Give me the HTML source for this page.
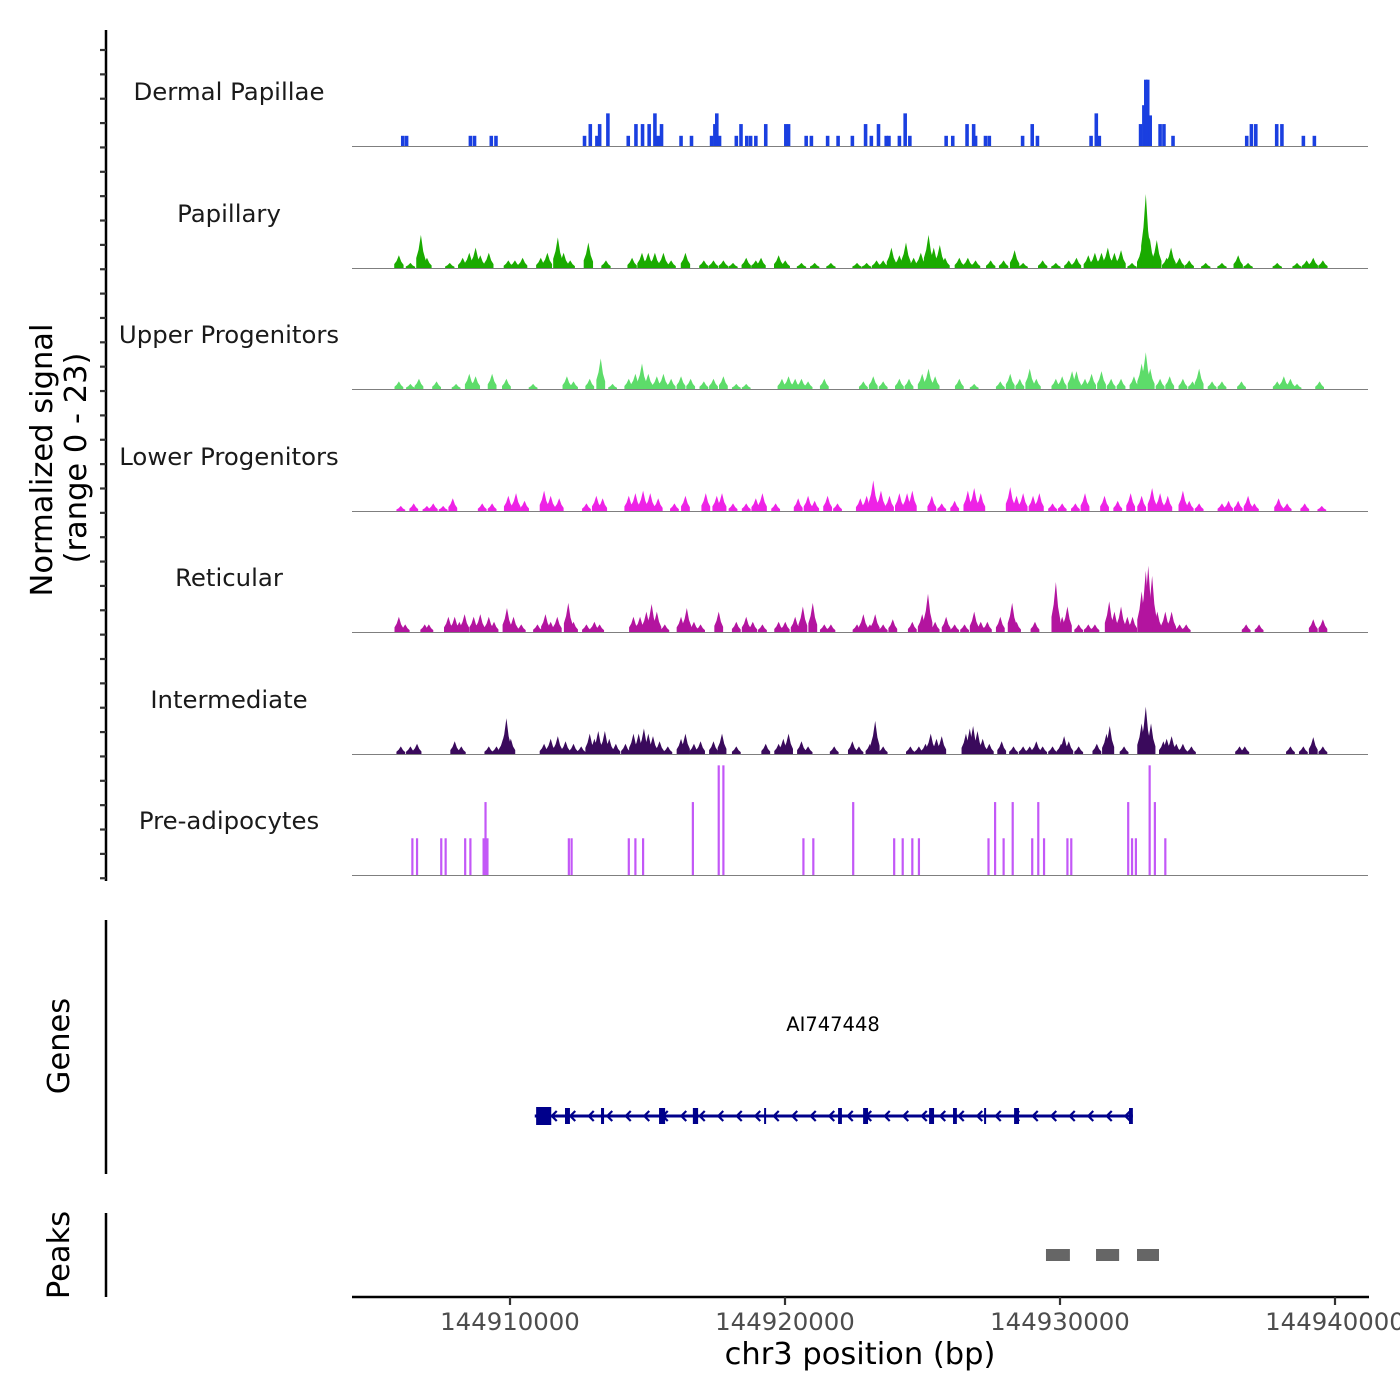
<!DOCTYPE html>
<html><head><meta charset="utf-8"><style>
html,body{margin:0;padding:0;background:#fff}
svg{display:block;font-family:"DejaVu Sans","Liberation Sans",sans-serif}
</style></head><body>
<svg id="chart" width="1400" height="1400" viewBox="0 0 1400 1400" xmlns="http://www.w3.org/2000/svg">
<rect width="1400" height="1400" fill="#fff"/>
<g id="tracks"></g>
<g id="gene"></g>
<g id="peaks"></g>
<g id="axes"></g>
<text transform="translate(52,460) rotate(-90)" text-anchor="middle" font-size="30.5" fill="#000">Normalized signal</text>
<text transform="translate(86,458) rotate(-90)" text-anchor="middle" font-size="30.5" fill="#000">(range 0 - 23)</text>
<text transform="translate(69,1046) rotate(-90)" text-anchor="middle" font-size="30.5" fill="#000">Genes</text>
<text transform="translate(69,1255) rotate(-90)" text-anchor="middle" font-size="30.5" fill="#000">Peaks</text>
<text x="860" y="1364" text-anchor="middle" font-size="30.5" fill="#000">chr3 position (bp)</text>
<text x="833" y="1031" text-anchor="middle" font-size="19.5" fill="#000">AI747448</text>
</svg>
<script>
// positions in kb offset from 144900000; heights in normalized signal units
const trackNames = ["Dermal Papillae","Papillary","Upper Progenitors","Lower Progenitors","Reticular","Intermediate","Pre-adipocytes"];
const trackColors = ["#1a3fe0","#1aab00","#5ddc6a","#ee22e6","#b3149f","#3a0a5c","#c358f7"];
const dermalPos = [6.10,6.24,8.56,8.71,9.32,9.49,12.71,12.92,13.16,13.26,13.56,14.30,14.58,14.82,15.06,15.27,15.39,15.51,16.22,16.6,17.33,17.45,17.52,17.62,18.23,18.4,18.61,18.75,18.94,19.3,20.03,20.13,20.77,20.96,21.55,21.93,22.45,22.93,23.14,23.4,23.68,23.78,24.16,24.37,24.54,25.86,26.1,26.62,26.86,26.93,27.29,27.43,28.64,28.99,29.18,31.13,31.32,31.43,32.93,33.05,33.12,33.19,33.28,33.64,33.78,34.11,36.79,36.96,37.12,37.88,38.07,38.85,39.25];
const dermalVal = [2,2,2,2,2,2,2,4.3,2,4.3,6.4,2,4.3,4.3,4.3,6.4,2,4.3,2,2,2,4.3,6.4,2,2,4.3,2,2,2,4.3,4.3,4.3,2,2,2,2,2,4.3,2,4.3,2,2,2,6.4,2,2,2,4.3,4.3,2,2,2,2,4.3,2,2,6.4,2,4.3,8,13,13,6,4.3,4.3,2,2,4.3,4.3,4.3,4.3,2,2];
const papillaryPos = [5.96,6.38,6.76,6.98,7.81,8.28,8.52,8.75,8.92,9.23,9.94,10.18,10.46,11.12,11.36,11.74,11.95,12.19,12.85,13.49,14.44,14.80,15.03,15.27,15.58,15.86,16.38,17.05,17.40,17.76,18.11,18.59,18.94,19.13,19.77,20.01,20.6,21.08,21.67,22.62,22.97,23.33,23.57,23.87,24.16,24.4,24.68,24.94,25.22,25.41,25.63,25.82,26.34,26.65,26.93,27.48,27.95,28.35,28.66,29.37,29.85,30.32,30.6,31.03,31.27,31.51,31.74,31.98,32.22,32.62,32.97,33.12,33.26,33.52,33.88,34.04,34.35,34.7,35.3,35.89,36.48,36.84,37.9,38.62,38.97,39.21,39.56];
const papillaryVal = [2.5,1,6.5,2,1,2,3,4,2.5,3,1.5,1.5,2,2,3,6,3,1.5,5,1.5,2,3,3,3,3,1.5,3,1.5,1.5,1.5,1,2,1.5,2,2.5,1.5,1,1,1,1,1,1.5,1.5,4,2.5,5,2,3,6.5,4,4.5,2,2,2,1.5,1.5,1.5,3.5,1,1.5,1,1.5,2,2.5,3,3,4,3,3.5,1,4,14.5,6,5.5,2,4,2,1.5,1,1,2.5,1,1,1,1.5,2,1.5];
const upperPos = [5.96,6.38,6.69,7.33,8.04,8.52,8.75,9.35,9.87,10.84,12.07,12.31,12.9,13.3,13.73,14.32,14.56,14.8,15.03,15.34,15.58,15.86,16.22,16.57,17.05,17.4,17.76,18.23,18.59,19.89,20.13,20.37,20.6,20.84,21.43,22.85,23.21,23.57,24.16,24.51,24.99,25.22,25.46,26.34,26.88,27.83,28.19,28.54,28.9,29.14,29.85,30.08,30.44,30.6,30.91,31.15,31.51,31.86,32.22,32.69,32.97,33.12,33.28,33.64,33.99,34.47,34.82,35.06,35.53,35.89,36.6,37.9,38.14,38.38,38.62,39.44];
const upperVal = [1.5,1,2,1.5,1,3,2.5,3,2,1,2.5,1.5,2,6,1,2,3,5,3,2.5,3,2,2.5,2,1.5,2,2.5,1,1,2,2.5,2,2,1.5,2,1.5,2.5,1.5,2,2,3,4,2.5,2,1,1.5,3,2,4,2,2,2.5,3.5,3.5,2,3,3.5,2,2,2.5,5,7.2,4,2,2.5,2,1.5,4,1.5,1.5,1.5,1.5,2.5,2,1,1.5];
const lowerPos = [6.03,6.5,6.98,7.21,7.57,7.92,8.99,9.35,9.94,10.22,10.53,11.24,11.48,11.79,12.78,13.14,13.37,14.32,14.56,14.84,15.1,15.39,15.98,16.38,17.12,17.52,17.71,18.11,18.59,18.94,19.18,19.66,20.48,20.84,21.08,21.55,21.91,22.74,22.97,23.21,23.49,23.8,24.16,24.44,24.63,25.34,25.7,26.17,26.65,26.88,27.12,28.19,28.42,28.66,29.02,29.25,29.73,30.08,30.56,30.91,31.62,32.1,32.57,32.97,33.35,33.64,33.92,34.47,34.7,35.06,35.89,36.13,36.48,36.84,37.07,37.95,38.26,38.9,39.52];
const lowerVal = [1,1.5,1,1.5,1,2.5,1.5,1.5,3,3.5,2,4,3,2.5,1.5,3,2.5,3,3.5,4,3.5,2.5,1.5,3,3.5,3,3.5,1.5,1.5,2.5,3.5,1.5,2.5,3,2,3,1.5,2.5,3,6,4,3,3.5,3.5,4,3,1.5,2,4,4.5,3.5,4.7,3,3.5,3,3.5,1.5,1.5,1.5,3.5,3,2,3.5,3,4.5,3.5,3,4,2,1.5,1.5,2,2,3,1.5,2.5,1.5,1.5,1];
const reticularPos = [5.96,6.19,6.9,7.05,7.76,7.99,8.16,8.35,8.68,8.92,9.23,9.42,9.89,10.13,10.41,11.0,11.29,11.48,11.72,12.12,12.31,12.78,13.07,13.26,14.49,14.73,14.96,15.15,15.34,15.63,16.22,16.43,16.69,16.93,17.59,18.23,18.59,18.83,19.18,19.77,20.01,20.37,20.65,21.01,21.43,21.67,22.62,22.85,23.09,23.28,23.57,23.92,24.63,24.99,25.2,25.46,25.86,26.17,26.53,26.88,27.12,27.36,27.83,28.26,28.42,29.09,29.85,30.08,30.27,30.68,31.03,31.27,31.79,31.98,32.22,32.45,32.64,32.97,33.12,33.21,33.35,33.54,33.83,34.06,34.35,34.59,36.77,37.24,39.21,39.56];
const reticularVal = [3,1.5,1.5,1.5,3,3,2,3.5,3,3.5,3,2,4.7,3,1.5,1.5,3.5,2,3,5.7,2,1.5,2,1.5,3,3,4,5.5,4,1.5,3,4.7,2,1.5,4,2,3,2,1.5,2,2,3,5,5.7,1.5,1.5,1.5,3.5,1.5,3.5,1.5,2.5,2,3.5,7.5,2,3,1.5,1.5,4,2,2,3,5.7,2,2,9.8,3,5,1.5,1.5,1.5,6,4,5,3,3,8,12,13,11,4,4,4,1.5,1.5,1.5,1.5,2.5,2.5];
const interPos = [6.03,6.38,6.62,7.99,8.23,9.23,9.51,9.75,9.87,10.03,11.24,11.48,11.74,12.02,12.31,12.59,12.9,13.07,13.21,13.45,13.61,13.85,14.2,14.49,14.68,14.87,15.03,15.2,15.44,15.74,16.22,16.38,16.69,16.93,17.4,17.71,18.23,19.3,19.77,19.94,20.13,20.6,20.84,21.79,22.45,22.69,23.09,23.28,23.57,24.56,24.87,25.11,25.3,25.51,25.7,26.58,26.72,26.84,27.0,27.19,27.43,27.88,28.31,28.66,28.9,29.14,29.37,29.73,30.04,30.15,30.32,30.68,31.34,31.69,31.81,32.33,32.97,33.12,33.31,33.76,33.88,34.06,34.23,34.47,34.78,36.53,36.72,38.38,38.85,39.21,39.56];
const interVal = [1.5,1.5,2,2.5,1.5,1.5,1.5,3,7,3,2,3,3.5,2.5,2,1.5,4,3,4.5,4.5,3,2,2,4,4,5,4,3.5,2.5,1.5,3,4,2,2.5,2.5,4,1.5,2,2,3,4,2.5,1.5,1.5,2.5,1.5,2,6.5,1.5,1.5,1.5,2,4,3,3.5,4,5,5.5,4.5,3,2,2.5,1.5,1.5,1.5,2.5,1.5,1.5,2,3.5,2.5,1.5,2,4,5.5,1.5,6,9.3,6,2.5,3,3.5,2,2,1.5,1.5,1.5,1.5,1.5,3.3,1.5];
const preadipoPos = [6.45,6.62,7.5,7.66,8.37,8.56,9.04,9.11,9.18,12.14,12.24,14.32,14.56,14.84,16.65,17.59,17.76,20.67,21.03,22.48,23.97,24.28,24.63,24.87,27.4,27.64,27.95,28.28,28.99,29.21,29.42,30.27,30.41,32.48,32.62,32.76,33.26,33.45,33.83];
const preadipoVal = [7.2,7.2,7.2,7.2,7.2,7.2,7.2,14.3,7.2,7.2,7.2,7.2,7.2,7.2,14.3,21.5,21.5,7.2,7.2,14.3,7.2,7.2,7.2,7.2,7.2,14.3,7.2,14.3,7.2,14.3,7.2,7.2,7.2,14.3,7.2,7.2,21.5,14.3,7.2];
const xTicks = [10,20,30,40];
const xTickLabels = ["144910000","144920000","144930000","144940000"];
const exonStart = [10.95,12.0,13.31,15.42,16.65,19.24,21.93,22.84,25.24,26.11,27.24,28.33,32.51];
const exonEnd = [11.5,12.18,13.42,15.64,16.84,19.31,22.07,23.02,25.42,26.25,27.28,28.51,32.65];
const geneRange = [10.9,32.65];
const peakStart = [29.49,31.31,32.8];
const peakEnd = [30.36,32.15,33.6];

const NS="http://www.w3.org/2000/svg";
const X0=352, X1=1368;
function xs(p){return 510+(p-10)*27.5;}
const baselines=[146,268,389,511,632,754,875];
function ys(v,i){return baselines[i]-v*5.1;}
function mk(tag,attrs,parent){const e=document.createElementNS(NS,tag);for(const k in attrs)e.setAttribute(k,attrs[k]);parent.appendChild(e);return e;}

const tracksG=document.getElementById('tracks');
const allPos=[dermalPos,papillaryPos,upperPos,lowerPos,reticularPos,interPos,preadipoPos];
const allVal=[dermalVal,papillaryVal,upperVal,lowerVal,reticularVal,interVal,preadipoVal];
const halfW=[0.065,0.17,0.16,0.16,0.16,0.16,0.04];
trackNames.forEach((nm,i)=>{
  const g=mk('g',{},tracksG);
  
  
  const lab=mk('text',{x:229,y:baselines[i]-46,'text-anchor':'middle','font-size':24.4,fill:'#1a1a1a'},g);
  lab.textContent=nm;
  
  
  const pos=allPos[i], val=allVal[i];
  for(let j=0;j<pos.length;j++){
    const xl=xs(pos[j]-halfW[i]), xr=xs(pos[j]+halfW[i]), xm=xs(pos[j]), yb=baselines[i], yt=ys(val[j],i);
    let el;
    if(i===0||i===6){
      el=mk('rect',{x:xl,y:yt,width:Math.max(1.5,xr-xl),height:yb-yt,fill:trackColors[i]},g);
    } else {
      const q=(yb-yt);
      el=mk('polygon',{points:`${xl},${yb} ${xl},${yb-q*0.3} ${xl+(xm-xl)*0.5},${yb-q*0.55} ${xm},${yt} ${xr-(xr-xm)*0.5},${yb-q*0.5} ${xr},${yb-q*0.25} ${xr},${yb}`,fill:trackColors[i]},g);
    }
    
    
  }
  const bl=mk('line',{x1:X0,x2:X1,y1:baselines[i]+0.5,y2:baselines[i]+0.5,stroke:'#7f7f7f','stroke-width':1},g);
  
  
});

// gene
const geneG=document.getElementById('gene');
const gl=mk('line',{x1:xs(geneRange[0]),x2:xs(geneRange[1]),y1:1116,y2:1116,stroke:'#00008b','stroke-width':3},geneG);


for(let x=xs(geneRange[0])+18;x<xs(geneRange[1])-4;x+=18.5){
  const ch=mk('polyline',{points:`${x+4},${1111} ${x-1},${1116} ${x+4},${1121}`,fill:'none',stroke:'#00008b','stroke-width':2.2},geneG);
  
  
}
exonStart.forEach((s,k)=>{
  const h=k===0?18:16;
  const r=mk('rect',{x:xs(s),y:1116-h/2,width:Math.max(2,xs(exonEnd[k])-xs(s)),height:h,fill:'#00008b'},geneG);
  
  
});

// peaks
const peaksG=document.getElementById('peaks');
peakStart.forEach((s,k)=>{
  const r=mk('rect',{x:xs(s),y:1249,width:xs(peakEnd[k])-xs(s),height:12,fill:'#666666'},peaksG);
  
  
});

// axes
const ax=document.getElementById('axes');
function ln(a,nm){const e=mk('line',Object.assign({stroke:'#000','stroke-width':2.5},a),ax);return e;}
ln({x1:106,x2:106,y1:30,y2:881},'signal-y-axis');
for(let y=50;y<=880;y+=24.36){ln({x1:100,x2:106,y1:y,y2:y,'stroke-width':2.2,stroke:'#333'},'y-tick');}
ln({x1:106,x2:106,y1:920,y2:1174},'genes-axis-line');
ln({x1:106,x2:106,y1:1213,y2:1297},'peaks-axis-line');
ln({x1:352,x2:1369,y1:1297,y2:1297},'x-axis-line');
xTicks.forEach((t,k)=>{
  ln({x1:xs(t),x2:xs(t),y1:1297,y2:1305,stroke:'#333','stroke-width':2.2},'x-tick');
  const tx=mk('text',{x:xs(t),y:1330,'text-anchor':'middle','font-size':24.4,fill:'#4d4d4d'},ax);
  tx.textContent=xTickLabels[k];
  
  
});
</script>
</body></html>
